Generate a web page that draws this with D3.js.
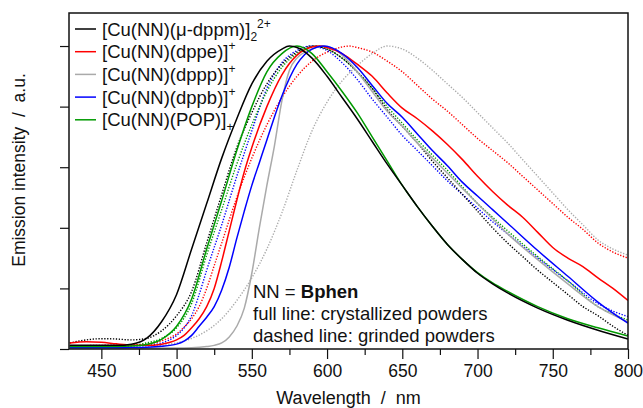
<!DOCTYPE html>
<html>
<head>
<meta charset="utf-8">
<script src="https://cdn.jsdelivr.net/npm/d3@7"></script>
<style>
  body { margin: 0; background: #fff; }
  svg text { font-family: "Liberation Sans", Arial, sans-serif; fill: #111; }
</style>
</head>
<body>
<div id="chart"></div>
<script>
// emission spectra, [wavelength nm, normalised intensity]
var dppmCryst = [[429,0.012],[440,0.012],[450,0.012],[460,0.012],[470,0.016],[480,0.035],[490,0.09],[500,0.18],[510,0.33],[520,0.48],[530,0.63],[540,0.76],[550,0.875],[560,0.95],[570,0.99],[575,1.0],[580,0.995],[590,0.96],[600,0.9],[610,0.83],[620,0.76],[630,0.685],[640,0.61],[650,0.54],[660,0.47],[670,0.405],[680,0.345],[690,0.295],[700,0.25],[710,0.215],[720,0.185],[740,0.135],[760,0.095],[780,0.062],[800,0.033]];
var dppmGrind = [[429,0.02],[440,0.03],[450,0.034],[460,0.033],[470,0.03],[480,0.035],[490,0.06],[500,0.11],[510,0.19],[520,0.35],[530,0.51],[540,0.665],[550,0.78],[560,0.875],[570,0.94],[580,0.98],[590,1.0],[600,0.99],[610,0.96],[620,0.915],[630,0.86],[640,0.79],[650,0.735],[660,0.68],[670,0.62],[680,0.565],[690,0.51],[700,0.455],[710,0.4],[720,0.35],[730,0.305],[740,0.26],[750,0.22],[760,0.18],[770,0.14],[780,0.11],[790,0.075],[800,0.045]];
var dppeCryst = [[429,0.02],[440,0.024],[450,0.022],[460,0.017],[470,0.013],[480,0.012],[490,0.016],[500,0.03],[505,0.045],[510,0.07],[515,0.1],[520,0.14],[525,0.2],[530,0.29],[535,0.39],[540,0.49],[545,0.585],[550,0.665],[560,0.8],[570,0.905],[580,0.97],[590,0.997],[595,1.0],[600,0.995],[610,0.975],[620,0.94],[630,0.9],[640,0.845],[650,0.795],[660,0.76],[670,0.72],[680,0.675],[690,0.625],[700,0.57],[710,0.52],[720,0.475],[730,0.435],[740,0.385],[750,0.335],[760,0.3],[770,0.272],[780,0.235],[790,0.2],[800,0.16]];
var dppeGrind = [[429,0.01],[450,0.012],[470,0.013],[480,0.016],[490,0.027],[500,0.05],[505,0.072],[510,0.1],[515,0.14],[520,0.2],[525,0.275],[530,0.35],[540,0.5],[550,0.63],[560,0.74],[570,0.83],[580,0.9],[590,0.95],[600,0.98],[610,0.997],[615,1.0],[620,0.995],[630,0.98],[640,0.95],[650,0.915],[660,0.87],[670,0.825],[680,0.785],[690,0.74],[700,0.695],[710,0.655],[720,0.615],[730,0.57],[740,0.525],[750,0.48],[760,0.435],[770,0.395],[780,0.35],[790,0.32],[800,0.30]];
var dpppCryst = [[429,0.003],[480,0.003],[500,0.003],[510,0.004],[520,0.008],[525,0.012],[530,0.02],[535,0.04],[540,0.075],[545,0.135],[550,0.25],[555,0.4],[560,0.54],[565,0.67],[570,0.82],[575,0.92],[580,0.96],[590,0.99],[597,1.0],[605,0.99],[610,0.97],[620,0.915],[630,0.85],[640,0.785],[650,0.735],[660,0.68],[670,0.63],[680,0.58],[690,0.53],[700,0.48],[710,0.43],[720,0.38],[740,0.295],[760,0.215],[780,0.14],[800,0.09]];
var dpppGrind = [[429,0.004],[460,0.005],[480,0.008],[490,0.012],[500,0.02],[510,0.035],[520,0.06],[530,0.1],[540,0.16],[550,0.235],[560,0.33],[570,0.45],[580,0.59],[590,0.72],[600,0.815],[610,0.885],[620,0.935],[630,0.975],[640,1.0],[650,0.99],[660,0.96],[670,0.92],[680,0.875],[690,0.83],[700,0.78],[710,0.73],[720,0.68],[730,0.625],[740,0.57],[750,0.515],[760,0.46],[770,0.41],[780,0.36],[790,0.33],[800,0.31]];
var dppbCryst = [[429,0.004],[450,0.004],[470,0.005],[480,0.006],[490,0.009],[500,0.016],[505,0.026],[510,0.045],[515,0.075],[520,0.105],[525,0.14],[530,0.195],[535,0.27],[540,0.365],[545,0.455],[550,0.54],[555,0.615],[560,0.69],[570,0.835],[580,0.94],[590,0.99],[598,1.0],[610,0.975],[620,0.93],[630,0.87],[640,0.81],[650,0.765],[660,0.71],[670,0.655],[680,0.605],[690,0.55],[700,0.505],[710,0.46],[720,0.415],[740,0.325],[760,0.24],[780,0.155],[800,0.085]];
var dppbGrind = [[429,0.01],[460,0.01],[480,0.012],[490,0.02],[500,0.045],[505,0.07],[510,0.11],[515,0.18],[520,0.26],[530,0.41],[540,0.57],[550,0.72],[560,0.86],[570,0.945],[580,0.985],[589,1.0],[600,0.985],[610,0.945],[620,0.89],[630,0.825],[640,0.765],[650,0.705],[660,0.655],[670,0.605],[680,0.555],[690,0.51],[700,0.465],[710,0.42],[720,0.38],[740,0.3],[760,0.225],[780,0.15],[790,0.125],[800,0.107]];
var popCryst = [[429,0.008],[450,0.008],[470,0.01],[480,0.015],[490,0.032],[500,0.075],[510,0.165],[520,0.33],[530,0.49],[540,0.655],[550,0.8],[560,0.915],[570,0.975],[580,1.0],[590,0.975],[600,0.915],[610,0.85],[620,0.78],[630,0.7],[640,0.62],[650,0.54],[660,0.47],[670,0.405],[680,0.345],[690,0.295],[700,0.252],[710,0.218],[720,0.19],[740,0.14],[760,0.1],[780,0.07],[800,0.043]];
var popGrind = [[429,0.01],[450,0.01],[470,0.012],[480,0.02],[490,0.035],[500,0.07],[510,0.15],[520,0.31],[530,0.46],[540,0.61],[550,0.74],[560,0.85],[570,0.93],[580,0.975],[593,1.0],[600,0.99],[610,0.96],[620,0.915],[630,0.86],[640,0.8],[650,0.745],[660,0.69],[670,0.64],[680,0.59],[690,0.535],[700,0.48],[710,0.435],[720,0.39],[740,0.305],[760,0.225],[780,0.14],[790,0.115],[800,0.096]];

var xMajor = [450, 500, 550, 600, 650, 700, 750, 800];
var xMinor = [475, 525, 575, 625, 675, 725, 775];
var yTicks = [0, 0.2, 0.4, 0.6, 0.8, 1.0];

// legend entries: main text, subscript, superscript
var legendMain = ["[Cu(NN)(\u03bc-dppm)]", "[Cu(NN)(dppe)]", "[Cu(NN)(dppp)]", "[Cu(NN)(dppb)]", "[Cu(NN)(POP)]"];
var legendSub = ["2", "", "", "", "+"];
var legendSup = ["2+", "+", "+", "+", ""];
var colors = ["#000000", "#ff0000", "#aaaaaa", "#0000ff", "#009a00"];

var noteLines = ["full line: crystallized powders", "dashed line: grinded powders"];

var W = 643, H = 408;
var margin = {top: 13, right: 15, bottom: 59, left: 69};
var iw = W - margin.left - margin.right, ih = H - margin.top - margin.bottom;

var svg = d3.select("#chart").append("svg")
    .attr("width", W)
    .attr("height", H);

var g = svg.append("g")
    .attr("transform", "translate(" + margin.left + "," + margin.top + ")");

var x = d3.scaleLinear().domain([428.5, 800]).range([0, iw]);
var y = d3.scaleLinear().domain([0, 1.109]).range([ih, 0]);

g.append("clipPath").attr("id", "clip")
  .append("rect").attr("width", iw).attr("height", ih);

var line = d3.line()
    .x(function(d){ return x(d[0]); })
    .y(function(d){ return y(d[1]); })
    .curve(d3.curveMonotoneX);

// dotted (grinded) first, then solid (crystals) on top
var series = [
  {data: dpppGrind, color: colors[2], dash: true},
  {data: dppeGrind, color: colors[1], dash: true},
  {data: dppbGrind, color: colors[3], dash: true},
  {data: popGrind,  color: colors[4], dash: true},
  {data: dppmGrind, color: colors[0], dash: true},
  {data: dpppCryst, color: colors[2], dash: false},
  {data: dppeCryst, color: colors[1], dash: false},
  {data: dppbCryst, color: colors[3], dash: false},
  {data: popCryst,  color: colors[4], dash: false},
  {data: dppmCryst, color: colors[0], dash: false}
];

g.append("g").attr("clip-path", "url(#clip)")
  .selectAll("path")
  .data(series)
  .enter()
  .append("path")
  .attr("d", function(d){ return line(d.data); })
  .attr("fill", "none")
  .attr("stroke", function(d){ return d.color; })
  .attr("stroke-width", function(d){ return d.dash ? 1.4 : 1.5; })
  .attr("stroke-dasharray", function(d){ return d.dash ? "1.3,1.6" : null; });

// axes
var xAxis = g.append("g")
    .attr("transform", "translate(0," + ih + ")")
    .call(d3.axisBottom(x).tickValues(xMajor).tickSize(10).tickPadding(6).tickFormat(d3.format("d")));
xAxis.selectAll("text").style("font-size", "17.5px").attr("fill", "#111");

g.append("g")
    .attr("transform", "translate(0," + ih + ")")
    .call(d3.axisBottom(x).tickValues(xMinor).tickSize(6).tickFormat(""))
    .select(".domain").remove();

g.append("g")
    .call(d3.axisLeft(y).tickValues(yTicks).tickSize(9).tickFormat(""));

g.selectAll(".domain").remove();
g.selectAll(".tick line").attr("stroke", "#111").attr("stroke-width", 1.2);

// frame
g.append("rect")
  .attr("width", iw)
  .attr("height", ih)
  .attr("fill", "none")
  .attr("stroke", "#111")
  .attr("stroke-width", 1.5);

// axis titles
svg.append("text")
  .attr("x", margin.left + iw / 2)
  .attr("y", 404)
  .attr("text-anchor", "middle")
  .style("font-size", "18px")
  .style("white-space", "pre")
  .text("Wavelength  /  nm");

svg.append("text")
  .attr("transform", "translate(25,170) rotate(-90)")
  .attr("text-anchor", "middle")
  .style("font-size", "17.5px")
  .style("white-space", "pre")
  .text("Emission intensity  /  a.u.");

// legend
var leg = g.selectAll(".leg")
  .data(legendMain)
  .enter()
  .append("g")
  .attr("class", "leg")
  .attr("transform", function(d, i){ return "translate(6," + (16 + i * 22.7) + ")"; });

leg.append("line")
  .attr("x1", 0).attr("x2", 21)
  .attr("stroke", function(d, i){ return colors[i]; })
  .attr("stroke-width", 1.5);

var lt = leg.append("text")
  .attr("x", 27)
  .attr("y", 6.5)
  .style("font-size", "18.5px");
lt.append("tspan").text(function(d){ return d; });
lt.append("tspan")
  .attr("dy", function(d, i){ return legendSub[i] ? 5 : 0; })
  .style("font-size", "12px")
  .text(function(d, i){ return legendSub[i]; });
lt.append("tspan")
  .attr("dy", function(d, i){ return legendSub[i] ? -13 : -8; })
  .style("font-size", "12px")
  .text(function(d, i){ return legendSup[i]; });

// annotation
var note = svg.append("g").attr("transform", "translate(253,298)");
var t0 = note.append("text").style("font-size", "18.5px");
t0.append("tspan").text("NN = ");
t0.append("tspan").style("font-weight", "bold").text("Bphen");
note.selectAll(".nl")
  .data(noteLines)
  .enter()
  .append("text")
  .attr("class", "nl")
  .attr("y", function(d, i){ return 22 * (i + 1); })
  .style("font-size", "18.5px")
  .text(function(d){ return d; });
</script>
</body>
</html>
